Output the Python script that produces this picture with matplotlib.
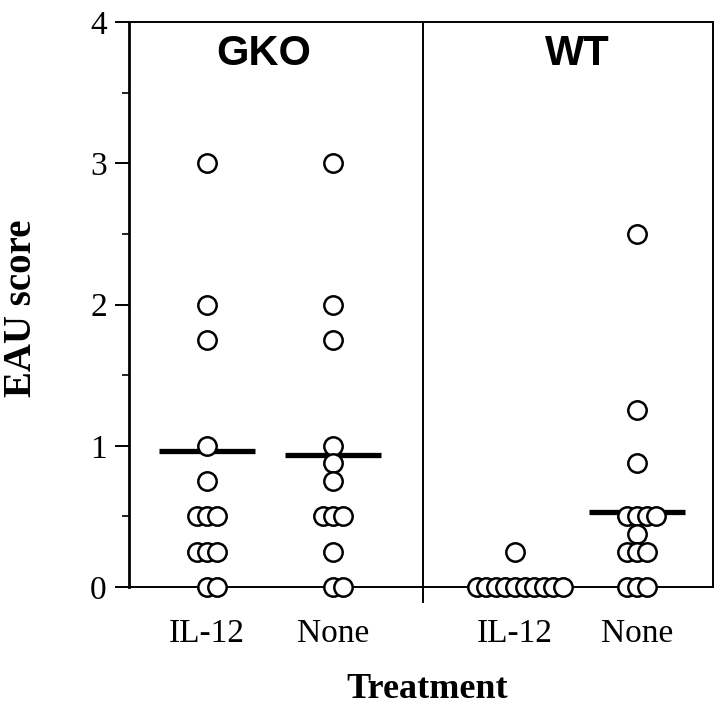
import matplotlib
matplotlib.use("Agg")
import matplotlib.pyplot as plt
from matplotlib.ticker import MultipleLocator
import numpy as np

# EAU scores per group
gko_il12 = [3, 2, 1.75, 1, 0.75, 0.5, 0.5, 0.5, 0.25, 0.25, 0.25, 0, 0]
gko_none = [3, 2, 1.75, 1, 0.875, 0.75, 0.5, 0.5, 0.5, 0.25, 0, 0]
wt_il12 = [0.25, 0, 0, 0, 0, 0, 0, 0, 0, 0, 0]
wt_none = [2.5, 1.25, 0.875, 0.5, 0.5, 0.5, 0.5, 0.375, 0.25, 0.25, 0.25, 0, 0, 0]
group_means = [0.965, 0.935, 0.0, 0.53]

tick_labels = ["IL-12", "None", "IL-12", "None"]
panel_titles = ["GKO", "WT"]

groups = [gko_il12, gko_none, wt_il12, wt_none]
x_pos = [78, 204, 386, 508]   # column centres (axis units ~ pixels)
x_divider = 294
x_max = 584
dx = 9.6

plt.rcParams['font.family'] = ['Liberation Serif', 'DejaVu Serif']

fig = plt.figure(figsize=(7.2, 7.08), dpi=100)
ax = fig.add_axes([129 / 720, 1 - 587 / 708, 584 / 720, 565 / 708])

for xc, vals, m in zip(x_pos, groups, group_means):
    vals = np.array(vals, dtype=float)
    xs = np.zeros_like(vals)
    for v in np.unique(vals):
        idx = np.where(vals == v)[0]
        n = len(idx)
        xs[idx] = xc + (np.arange(n) - (n - 1) // 2) * dx
    ax.plot([xc - 48, xc + 48], [m, m], color='black', lw=3.8,
            solid_capstyle='butt', zorder=2)
    ax.scatter(xs, vals, s=175, facecolor='white', edgecolor='black',
               linewidth=1.8, zorder=3, clip_on=False)

# divider between the two panels
ax.plot([x_divider, x_divider], [-0.107, 4], color='black', lw=1.4,
        clip_on=False, zorder=1)

ax.text(135, 3.77, panel_titles[0], family='Liberation Sans', weight='bold',
        fontsize=30, ha='center', va='center')
ax.text(448, 3.77, panel_titles[1], family='Liberation Sans', weight='bold',
        fontsize=30, ha='center', va='center')

ax.set_xlim(0, x_max)
ax.set_ylim(0, 4)
ax.set_xticks(x_pos)
ax.set_xticklabels(tick_labels, fontsize=24)
ax.tick_params(axis='x', length=0, pad=23)
ax.yaxis.set_major_locator(MultipleLocator(1))
ax.yaxis.set_minor_locator(MultipleLocator(0.5))
ax.tick_params(axis='y', which='major', direction='out', length=10,
               width=1.4, labelsize=24, pad=6)
ax.tick_params(axis='y', which='minor', direction='out', length=5, width=1.2)
for sp in ax.spines.values():
    sp.set_linewidth(1.4)
ax.spines['left'].set_linewidth(2)

fig.text(22 / 720, 1 - 308 / 708, "EAU score", rotation=90, fontsize=28,
         weight='bold', ha='center', va='center')
fig.text(427 / 720, 1 - 689 / 708, "Treatment", fontsize=26,
         weight='bold', ha='center', va='center')

fig.savefig("out.png", dpi=100)
